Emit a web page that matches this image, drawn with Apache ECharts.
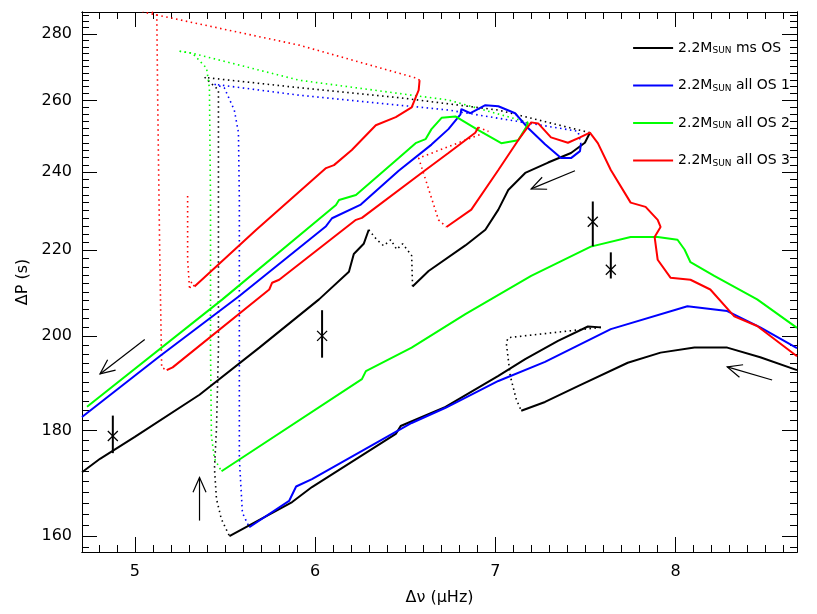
<!DOCTYPE html>
<html><head><meta charset="utf-8">
<script src="https://cdn.jsdelivr.net/npm/echarts@6/dist/echarts.min.js"></script>
<style>html,body{margin:0;padding:0;background:#fff}#c{width:817px;height:614px}</style>
</head><body><div id="c"></div>
<script>
const xTicks = [5, 6, 7, 8];
const yTicks = [160, 180, 200, 220, 240, 260, 280];
const legendNames = ['ms OS', 'all OS 1', 'all OS 2', 'all OS 3'];

const blackA = [[4.707,171.8],[4.807,174.4],[5.0,178.7],[5.359,187.3],[5.691,197.4],[6.022,208.3],[6.188,214.8],[6.215,219.1],[6.27,221.6],[6.298,225.1]];
const blackNoise = [[6.298,225.1],[6.309,225.6],[6.343,222.6],[6.381,221.1],[6.42,222.6],[6.453,220.2],[6.486,221.6],[6.519,219.7],[6.536,218.7],[6.541,211.3]];
const blackB = [[6.541,211.3],[6.63,215.0],[6.834,221.2],[6.945,225.1],[7.017,230.2],[7.072,235.3],[7.166,239.8],[7.293,242.6],[7.42,245.2],[7.497,248.0],[7.525,250.8]];
const blackTop = [[7.525,250.8],[7.017,257.2],[6.464,260.8],[5.912,263.7],[5.425,266.5],[5.387,266.8],[5.464,263.0],[5.464,232.7],[5.464,197.0],[5.453,180.3],[5.442,172.5],[5.453,166.8],[5.48,163.1],[5.525,160.0]];
const blackC = [[5.525,160.0],[5.873,166.2],[5.983,169.0],[6.448,179.3],[6.475,180.9],[6.724,184.8],[7.017,191.3],[7.166,194.9],[7.348,198.9],[7.514,202.1],[7.586,201.9]];
const blackD = [[7.586,201.9],[7.072,199.6],[7.061,198.5],[7.083,191.3],[7.116,186.4],[7.144,184.0]];
const blackE = [[7.144,184.0],[7.276,185.8],[7.459,189.1],[7.735,194.1],[7.917,196.3],[8.105,197.4],[8.287,197.4],[8.47,195.3],[8.674,192.5]];

const blueA = [[4.707,182.7],[5.138,195.5],[5.58,209.1],[6.061,226.0],[6.094,228.0],[6.254,231.5],[6.464,240.4],[6.646,247.5],[6.74,251.8],[6.807,256.0],[6.812,257.5],[6.862,256.3],[6.945,258.6],[7.017,258.3],[7.11,256.3],[7.182,252.1],[7.276,247.6],[7.365,243.8],[7.42,243.8],[7.47,245.7],[7.475,247.6]];
const blueDot = [[7.475,247.6],[7.459,251.2],[6.74,257.2],[5.912,261.5],[5.442,264.7],[5.497,263.6],[5.552,257.2],[5.575,250.8],[5.58,232.7],[5.58,197.0],[5.58,174.4],[5.597,164.2],[5.635,161.6]];
const blueB = [[5.635,161.6],[5.856,166.4],[5.895,169.1],[5.983,170.5],[6.536,181.5],[6.724,184.6],[7.017,190.2],[7.276,194.3],[7.641,201.5],[8.066,206.7],[8.287,205.6],[8.47,201.9],[8.674,197.3]];

const greenA = [[4.735,184.8],[5.486,208.3],[6.116,231.4],[6.133,232.7],[6.227,234.0],[6.464,243.8],[6.558,247.9],[6.613,249.0],[6.646,251.8],[6.702,255.0],[6.779,255.4],[6.906,251.5],[7.033,247.9],[7.127,248.7],[7.171,252.3],[7.182,253.7]];
const greenDotTop = [[7.182,253.7],[6.74,260.1],[5.912,265.9],[5.32,274.0],[5.249,274.6]];
const greenDotV = [[5.249,274.6],[5.32,274.0],[5.398,269.5],[5.414,263.6],[5.42,232.7],[5.42,197.0],[5.425,178.9],[5.442,174.4],[5.481,172.0]];
const greenB = [[5.481,172.0],[6.26,190.6],[6.282,192.3],[6.536,197.4],[6.834,204.9],[7.199,213.8],[7.53,220.9],[7.751,223.3],[7.901,223.3],[8.011,222.6],[8.05,220.2],[8.083,217.1],[8.215,213.8],[8.453,208.3],[8.674,201.8]];

const redDotSmall = [[5.293,233.7],[5.293,217.7],[5.304,210.6],[5.315,212.4],[5.331,211.3]];
const redA = [[5.331,211.3],[5.674,225.1],[6.061,241.1],[6.105,241.9],[6.204,246.0],[6.337,252.9],[6.448,255.2],[6.536,258.0],[6.575,263.0],[6.58,265.9]];
const redDotTop = [[6.58,265.9],[6.564,266.5],[5.912,276.5],[5.044,286.9]];
const redDotV = [[5.094,286.9],[5.122,285.9],[5.127,260.1],[5.138,220.2],[5.149,193.1],[5.177,192.5]];
const redB = [[5.177,192.5],[5.21,193.1],[5.746,210.6],[5.762,212.2],[5.801,212.9],[6.227,227.6],[6.26,228.1],[6.613,240.6],[6.74,245.2],[6.889,250.8],[6.906,252.3]];
const redDotMid = [[6.906,252.3],[6.961,251.2],[6.575,243.8],[6.685,227.6],[6.729,225.8]];
const redC = [[6.729,225.8],[6.867,230.2],[7.017,240.6],[7.127,248.7],[7.199,253.7],[7.238,253.4],[7.309,249.5],[7.403,248.0],[7.47,249.5],[7.525,250.8],[7.569,247.9],[7.641,240.6],[7.751,232.0],[7.834,230.9],[7.901,227.6],[7.917,225.8],[7.884,223.3],[7.901,217.7],[7.972,213.4],[8.083,212.9],[8.193,210.6],[8.326,204.4],[8.453,202.2],[8.674,195.5]];

// observations: x, P, low, high
const obs = [[4.878,178.9,175.5,183.0],[6.039,200.0,195.2,205.8],[7.541,227.1,221.0,232.3],[7.641,215.3,213.2,219.5]];
// arrows: x1, P1, x2, P2 (tail -> head)
const arrows = [[5.055,199.2,4.807,191.7],[5.359,162.8,5.359,170.8],[7.442,240.4,7.199,235.6],[8.536,190.4,8.287,193.2]];

const XMIN = 4.707, XMAX = 8.674, YMIN = 157.2, YMAX = 286.9;
const xMinor = []; for (let v = 4.8; v < 8.67; v += 0.1) xMinor.push(Math.round(v*10)/10);
const yMinor = []; for (let v = 158; v < 287; v += 2) yMinor.push(v);

const col = {k:'#000000', b:'#0000ff', g:'#00ff00', r:'#ff0000'};
const names = {k:'2.2M{s|SUN} ms OS', b:'2.2M{s|SUN} all OS 1', g:'2.2M{s|SUN} all OS 2', r:'2.2M{s|SUN} all OS 3'};
const lname = k => 'L_' + k;
function ser(data, c, dotted, named) {
  return {type:'line', name: named ? lname(c) : undefined, data, showSymbol:false, symbol:'none', silent:true, animation:false,
    lineStyle:{color:col[c], width: dotted ? 1.6 : 2, type: dotted ? [1.5,3.5] : 'solid'}, itemStyle:{color:col[c]}, z: dotted?2:3};
}
const fontF = '"DejaVu Sans", sans-serif';
function xAx(pos, minor, labels) {
  return {type:'value', min:XMIN, max:XMAX, position:pos, axisLine:{show:true, onZero:false, lineStyle:{color:'#000', width:1}},
    axisTick:{show:true, inside:true, length: minor?7:15, customValues: minor?xMinor:xTicks, lineStyle:{color:'#000'}},
    axisLabel:{show:labels, customValues:xTicks, color:'#000', fontSize:16, fontFamily:fontF, margin:12},
    splitLine:{show:false}, name: labels?'Δν (μHz)':'', nameLocation:'middle', nameGap:38, nameTextStyle:{color:'#000', fontSize:16, fontFamily:fontF}};
}
function yAx(pos, minor, labels) {
  return {type:'log', logBase:10, min:YMIN, max:YMAX, position:pos, axisLine:{show:true, onZero:false, lineStyle:{color:'#000', width:1}},
    axisTick:{show:true, inside:true, length: minor?7:15, customValues: minor?yMinor:yTicks, lineStyle:{color:'#000'}},
    axisLabel:{show:labels, customValues:yTicks, color:'#000', fontSize:16, fontFamily:fontF, margin:10},
    splitLine:{show:false}, minorTick:{show:false},
    name: labels?'ΔP (s)':'', nameLocation:'middle', nameGap:50, nameTextStyle:{color:'#000', fontSize:16, fontFamily:fontF}};
}

const series = [
  ser(blackA,'k',false,true), ser(blackNoise,'k',true), ser(blackB,'k',false), ser(blackTop,'k',true), ser(blackC,'k',false), ser(blackD,'k',true), ser(blackE,'k',false),
  ser(blueA,'b',false,true), ser(blueDot,'b',true), ser(blueB,'b',false),
  ser(greenA,'g',false,true), ser(greenDotTop,'g',true), ser(greenDotV,'g',true), ser(greenB,'g',false),
  ser(redDotSmall,'r',true), ser(redA,'r',false,true), ser(redDotTop,'r',true), ser(redDotV,'r',true), ser(redB,'r',false), ser(redDotMid,'r',true), ser(redC,'r',false),
  {type:'custom', data: obs, encode:{x:0, y:[1,2,3]}, silent:true, z:5, animation:false,
   renderItem(params, api) {
     const c = api.coord([api.value(0), api.value(1)]);
     const lo = api.coord([api.value(0), api.value(2)]);
     const hi = api.coord([api.value(0), api.value(3)]);
     const s = 5, st = {stroke:'#000', lineWidth:2};
     return {type:'group', children:[
       {type:'line', shape:{x1:c[0], y1:lo[1], x2:c[0], y2:hi[1]}, style:st},
       {type:'line', shape:{x1:c[0]-s, y1:c[1]-s, x2:c[0]+s, y2:c[1]+s}, style:{stroke:'#000', lineWidth:1.3}},
       {type:'line', shape:{x1:c[0]-s, y1:c[1]+s, x2:c[0]+s, y2:c[1]-s}, style:{stroke:'#000', lineWidth:1.3}}]};
   }},
  {type:'custom', data: arrows, encode:{x:[0,2], y:[1,3]}, silent:true, z:5, animation:false,
   renderItem(params, api) {
     const a = api.coord([api.value(0), api.value(1)]);
     const b = api.coord([api.value(2), api.value(3)]);
     const ang = Math.atan2(b[1]-a[1], b[0]-a[0]);
     const L = 16, w = 0.42, st = {stroke:'#000', lineWidth:1.2};
     const h1 = [b[0]-L*Math.cos(ang-w), b[1]-L*Math.sin(ang-w)];
     const h2 = [b[0]-L*Math.cos(ang+w), b[1]-L*Math.sin(ang+w)];
     return {type:'group', children:[
       {type:'line', shape:{x1:a[0], y1:a[1], x2:b[0], y2:b[1]}, style:st},
       {type:'polyline', shape:{points:[h1, b, h2]}, style:Object.assign({fill:null}, st)}]};
   }}
];

const chart = echarts.init(document.getElementById('c'), null, {renderer:'canvas'});
chart.setOption({
  backgroundColor:'#fff', animation:false,
  grid:{left:82, right:20, top:12, bottom:62, containLabel:false},
  xAxis:[xAx('bottom',false,true), xAx('bottom',true,false), xAx('top',false,false), xAx('top',true,false)],
  yAxis:[yAx('left',false,true), yAx('left',true,false), yAx('right',false,false), yAx('right',true,false)],
  legend:{orient:'vertical', right:22, top:36, itemWidth:40, itemHeight:2, itemGap:23, icon:'rect',
    data: ['k','b','g','r'].map(k => ({name: lname(k), itemStyle:{color:col[k]}})),
    formatter: n => names[n.slice(2)],
    textStyle:{color:'#000', fontSize:14, fontFamily:fontF, rich:{s:{fontSize:9, verticalAlign:'bottom', padding:[6,0,0,0], fontFamily:fontF, color:'#000'}}}},
  series
});
</script></body></html>
